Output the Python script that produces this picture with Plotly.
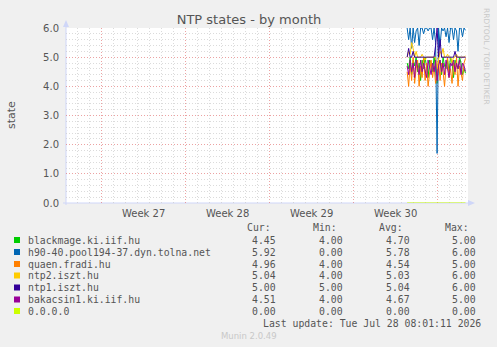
import pandas as pd
import plotly.graph_objects as go

# ---------------- data ----------------
TIMES = pd.date_range("2026-07-24 12:00", periods=40, freq="3h")

SERIES_NAMES = ["blackmage.ki.iif.hu", "h90-40.pool194-37.dyn.tolna.net", "quaen.fradi.hu",
                "ntp2.iszt.hu", "ntp1.iszt.hu", "bakacsin1.ki.iif.hu", "0.0.0.0"]
SERIES_COLORS = ["#00CC00", "#0066B3", "#FF8000", "#FFCC00", "#330099", "#990099", "#CCFF00"]

blackmage = [4.8, 4.6, 5.0, 4.4, 4.9, 4.7, 5.0, 4.5, 4.8, 4.2, 4.9, 4.6, 5.0, 4.7, 4.3, 4.9, 4.8, 4.5, 5.0, 4.6,
             4.1, 4.8, 4.9, 4.4, 5.0, 4.7, 4.6, 4.9, 4.5, 5.0, 4.8, 4.3, 4.9, 4.7, 4.6, 5.0, 4.8, 4.4, 4.6, 4.45]
h90 = [6.0, 5.6, 6.0, 5.3, 6.0, 5.5, 5.9, 6.0, 5.4, 6.0, 6.0, 5.8, 6.0, 6.0, 5.9, 6.0, 6.0, 5.6, 6.0, 5.5,
       1.7, 6.0, 5.4, 6.0, 5.9, 6.0, 5.7, 6.0, 5.5, 6.0, 6.0, 5.6, 6.0, 5.9, 5.2, 6.0, 6.0, 5.7, 6.0, 5.92]
quaen = [4.5, 4.0, 4.8, 4.2, 5.0, 4.1, 4.6, 4.9, 4.0, 4.7, 4.3, 5.0, 4.2, 4.8, 4.0, 4.6, 4.9, 4.3, 4.7, 4.1,
         4.4, 4.9, 4.2, 4.8, 4.5, 4.0, 4.7, 5.0, 4.3, 4.6, 4.1, 4.8, 4.4, 5.0, 4.0, 4.7, 4.5, 4.2, 4.8, 4.96]
ntp2 = [5.0, 5.2, 5.1, 5.5, 5.3, 5.0, 5.2, 5.0, 5.0, 5.0, 5.1, 5.0, 4.9, 5.0, 5.0, 5.0, 5.0, 5.0, 5.0, 5.0,
        4.6, 5.0, 5.2, 5.1, 5.3, 5.0, 5.0, 5.1, 5.0, 5.0, 4.8, 5.0, 5.0, 5.1, 5.0, 5.0, 5.0, 5.0, 5.0, 5.04]
ntp1 = [5.0, 5.3, 5.0, 5.0, 5.2, 5.0, 5.0, 5.0, 5.0, 5.0, 5.0, 5.0, 5.0, 5.0, 5.0, 5.0, 5.0, 5.0, 5.0, 5.4,
        6.0, 5.0, 5.6, 5.0, 5.0, 5.0, 5.0, 5.0, 5.0, 5.0, 5.0, 5.0, 5.2, 5.0, 5.0, 5.0, 5.0, 5.0, 5.0, 5.0]
bakacsin = [4.7, 4.4, 4.9, 4.5, 4.8, 4.3, 4.9, 4.6, 4.4, 4.9, 4.5, 4.8, 4.6, 4.3, 4.9, 4.7, 4.4, 4.8, 4.5, 4.9,
            4.2, 4.7, 4.9, 4.5, 4.8, 4.4, 4.9, 4.6, 4.3, 4.8, 4.7, 4.9, 4.5, 4.8, 4.6, 4.9, 4.4, 4.8, 4.7, 4.51]
zero = [0.0] * 40
SERIES_VALUES = [blackmage, h90, quaen, ntp2, ntp1, bakacsin, zero]

CUR = ["4.45", "5.92", "4.96", "5.04", "5.00", "4.51", "0.00"]
MIN = ["4.00", "0.00", "4.00", "4.00", "5.00", "4.00", "0.00"]
AVG = ["4.70", "5.78", "4.54", "5.03", "5.04", "4.67", "0.00"]
MAX = ["5.00", "6.00", "5.00", "6.00", "6.00", "5.00", "0.00"]

WEEK_LABELS = ["Week 27", "Week 28", "Week 29", "Week 30"]
WEEK_LABEL_POS = ["2026-07-02 12:00", "2026-07-09 12:00", "2026-07-16 12:00", "2026-07-23 12:00"]
X_RANGE = ["2026-06-26 00:00", "2026-07-29 14:00"]

TITLE = "NTP states - by month"
Y_TITLE = "state"
LAST_UPDATE = "Last update: Tue Jul 28 08:01:11 2026"

# ---------------- layout geometry ----------------
W, H = 497, 347
L, R, T, B = 66, 468, 28, 203


def px(x):
    return (x - L) / (R - L)


def py(y):
    return (B - y) / (B - T)


FONT = "DejaVu Sans"
MONO = "DejaVu Sans Mono"
FC = "#555555"
AXIS_C = "#CFD6F8"
MGRID = "rgba(224,100,100,0.6)"
GRID = "rgba(200,200,200,0.65)"

fig = go.Figure()
for name, vals, col in zip(SERIES_NAMES, SERIES_VALUES, SERIES_COLORS):
    fig.add_trace(go.Scatter(x=TIMES, y=vals, mode="lines", name=name,
                             line=dict(color=col, width=1), showlegend=False, hoverinfo="skip"))

shapes = []
# axis lines + arrows
shapes.append(dict(type="line", xref="paper", yref="paper", x0=px(66), x1=px(66), y0=py(205), y1=py(23),
                   line=dict(color=AXIS_C, width=1), layer="between"))
shapes.append(dict(type="line", xref="paper", yref="paper", x0=px(63), x1=px(470), y0=py(203), y1=py(203),
                   line=dict(color=AXIS_C, width=1), layer="between"))
shapes.append(dict(type="path", xref="paper", yref="paper",
                   path=f"M {px(63)} {py(27)} L {px(69)} {py(27)} L {px(66)} {py(20)} Z",
                   fillcolor=AXIS_C, line=dict(width=0), layer="above"))
shapes.append(dict(type="path", xref="paper", yref="paper",
                   path=f"M {px(468)} {py(200)} L {px(468)} {py(206)} L {px(475)} {py(203)} Z",
                   fillcolor=AXIS_C, line=dict(width=0), layer="above"))

annotations = []
# week labels on the time axis
for lab, pos in zip(WEEK_LABELS, WEEK_LABEL_POS):
    annotations.append(dict(text=lab, xref="x", yref="paper", x=pos, y=py(213), xanchor="center",
                            yanchor="middle", showarrow=False, font=dict(family=FONT, size=10, color=FC)))
# watermark
annotations.append(dict(text="RRDTOOL / TOBI OETIKER", xref="paper", yref="paper", x=px(487), y=py(56),
                        xanchor="center", yanchor="middle",
                        showarrow=False, textangle=90, font=dict(family=FONT, size=7.5, color="#C8C8C8")))
# y title
annotations.append(dict(text=Y_TITLE, xref="paper", yref="paper", x=px(11), y=py(115),
                        xanchor="center", yanchor="middle",
                        showarrow=False, textangle=-90, font=dict(family=FONT, size=11, color=FC)))

# legend
ROW_Y = [240, 252, 264, 275.5, 287.5, 299.5, 311]
COL_R = [277, 344, 411, 477]
HDR_R = [272, 338, 404, 470]
for hdr, xr in zip(["Cur:", "Min:", "Avg:", "Max:"], HDR_R):
    annotations.append(dict(text=hdr, xref="paper", yref="paper", x=px(xr + 1), y=py(227), xanchor="right",
                            yanchor="middle", showarrow=False, font=dict(family=MONO, size=9.8, color=FC)))
for i, (name, col) in enumerate(zip(SERIES_NAMES, SERIES_COLORS)):
    yy = ROW_Y[i]
    shapes.append(dict(type="rect", xref="paper", yref="paper", x0=px(14), x1=px(20), y0=py(yy - 3), y1=py(yy + 3),
                       fillcolor=col, line=dict(width=0)))
    annotations.append(dict(text=name, xref="paper", yref="paper", x=px(25.5), y=py(yy), xanchor="left",
                            yanchor="middle", showarrow=False, font=dict(family=MONO, size=9.8, color=FC)))
    for val, xr in zip([CUR[i], MIN[i], AVG[i], MAX[i]], COL_R):
        annotations.append(dict(text=val, xref="paper", yref="paper", x=px(xr + 1), y=py(yy), xanchor="right",
                                yanchor="middle", showarrow=False, font=dict(family=MONO, size=9.8, color=FC)))
annotations.append(dict(text=LAST_UPDATE, xref="paper", yref="paper", x=px(483), y=py(323), xanchor="right",
                        yanchor="middle", showarrow=False, font=dict(family=MONO, size=9.8, color=FC)))
annotations.append(dict(text="Munin 2.0.49", xref="paper", yref="paper", x=px(249), y=py(336),
                        xanchor="center", yanchor="middle",
                        showarrow=False, font=dict(family=FONT, size=8.5, color="#C8C8C8")))

fig.update_layout(
    width=W, height=H,
    margin=dict(l=L, r=W - R, t=T, b=H - B, pad=0),
    paper_bgcolor="#F0F0F0", plot_bgcolor="#FFFFFF",
    title=dict(text=TITLE, x=px(249), xref="paper", xanchor="center", y=1 - 19 / H, yanchor="middle",
               font=dict(family=FONT, size=13, color=FC)),
    font=dict(family=FONT, size=10, color=FC),
    xaxis=dict(type="date", range=X_RANGE, showticklabels=False, ticks="",
               tick0="2026-06-29", dtick=7 * 86400000,
               showgrid=True, gridcolor=MGRID, griddash="1px,2px", gridwidth=1,
               minor=dict(tick0="2026-06-29", dtick=86400000, showgrid=True, gridcolor=GRID,
                          griddash="1px,2px", gridwidth=1),
               showline=False, zeroline=False),
    yaxis=dict(range=[0, 6], tick0=0, dtick=1, tickformat=".1f",
               showgrid=True, gridcolor=MGRID, griddash="1px,2px", gridwidth=1,
               minor=dict(dtick=0.2, showgrid=True, gridcolor=GRID, griddash="1px,2px", gridwidth=1),
               ticks="outside", ticklen=4, tickcolor="rgba(0,0,0,0)",
               tickfont=dict(family=FONT, size=10, color=FC),
               showline=False, zeroline=False),
    shapes=shapes, annotations=annotations,
)

fig.write_html("out.html")
